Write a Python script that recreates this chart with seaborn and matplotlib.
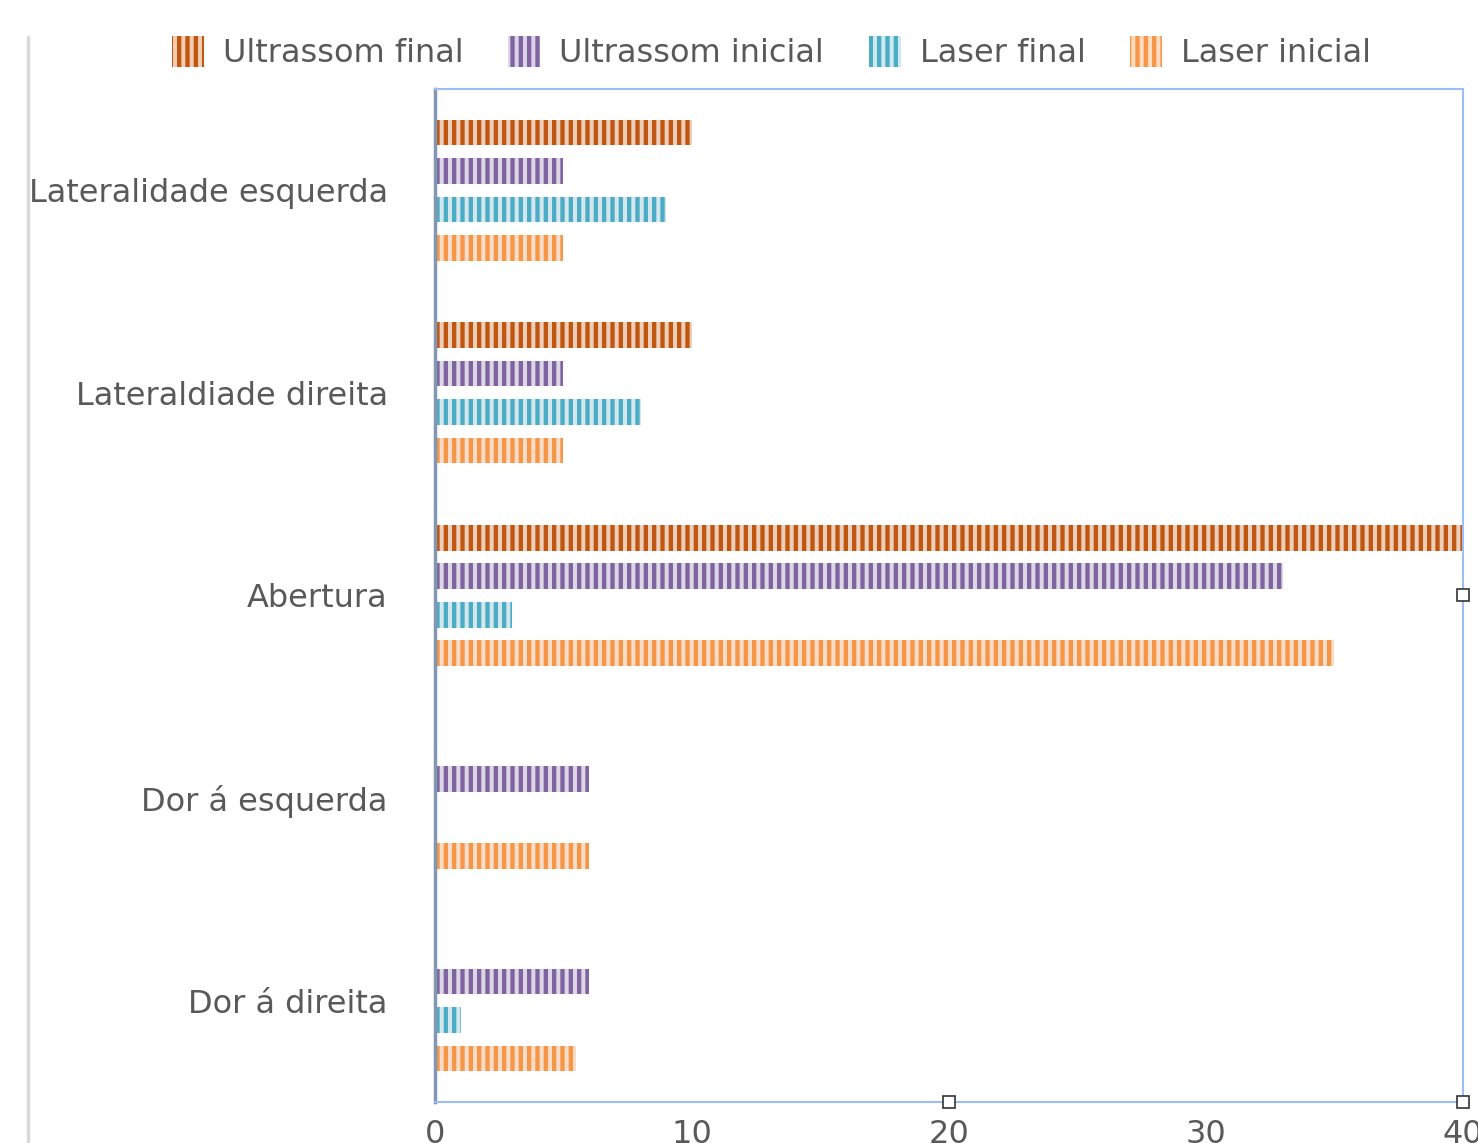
import pandas as pd
import matplotlib.pyplot as plt
import seaborn as sns
from matplotlib.patches import Patch
from matplotlib.lines import Line2D


# values (top to bottom)
categorias = ['Lateralidade esquerda', 'Lateraldiade direita', 'Abertura',
              'Dor á esquerda', 'Dor á direita']
series = ['Ultrassom final', 'Ultrassom inicial', 'Laser final', 'Laser inicial']

ultrassom_final = [10, 10, 40, 0, 0]
ultrassom_inicial = [5, 5, 33, 6, 6]
laser_final = [9, 8, 3, 0, 1]
laser_inicial = [5, 5, 35, 6, 5.5]

x_ticks = [0, 10, 20, 30, 40]

# stripe colours (dark) and the lighter gap between stripes
cores_escuras = ['#C0560F', '#8064A2', '#4BACC6', '#F79646']
cores_claras = ['#F3CDB3', '#DCD3E8', '#CFE9F1', '#FDDCC2']

# build a long dataframe for seaborn
valores = [ultrassom_final, ultrassom_inicial, laser_final, laser_inicial]
linhas = []
for nome, vals in zip(series, valores):
    for cat, v in zip(categorias, vals):
        linhas.append({'categoria': cat, 'serie': nome, 'valor': v})
df = pd.DataFrame(linhas)

sns.set_theme(style='white')
plt.rcParams['font.family'] = ['DejaVu Sans']
plt.rcParams['hatch.linewidth'] = 3.1

fig = plt.figure(figsize=(14.78, 11.43), dpi=100)
ax = fig.add_axes([0.2943, 0.0359, 0.6955, 0.8863])

sns.barplot(data=df, y='categoria', x='valor', hue='serie', order=categorias,
            hue_order=series, palette=cores_claras, orient='h', width=0.76,
            gap=0.33, ax=ax, legend=False)

# vertical stripe pattern on every bar
for cont, escura in zip(ax.containers, cores_escuras):
    for barra in cont:
        barra.set_hatch('||')
        barra.set_edgecolor(escura)
        barra.set_linewidth(0)

ax.set_xlim(0, 40)
ax.set_ylim(len(categorias) - 0.5, -0.5)
ax.set_xticks(x_ticks)
ax.set_xlabel('')
ax.set_ylabel('')
ax.grid(False)

texto = '#595959'
ax.tick_params(axis='y', length=0, pad=34, labelsize=23, labelcolor=texto)
ax.tick_params(axis='x', length=0, pad=12, labelsize=23, labelcolor=texto)

# selected plot-area look
for lado in ['top', 'right', 'bottom']:
    ax.spines[lado].set_color('#9DBDF5')
    ax.spines[lado].set_linewidth(1.5)
ax.spines['left'].set_color('#8497B0')
ax.spines['left'].set_linewidth(2.5)

# selection handles
ax.plot([1, 0.5, 1], [0.5, 0, 0], linestyle='none', marker='s', markersize=9,
        markerfacecolor='white', markeredgecolor='#333333', markeredgewidth=1.2,
        transform=ax.transAxes, clip_on=False, zorder=5)

# grey line at the left edge of the figure
fig.add_artist(Line2D([0.019, 0.019], [0, 0.968], color='#D9D9D9', linewidth=2.5))

handles = [Patch(facecolor=c, edgecolor=e, hatch='||', linewidth=0)
           for c, e in zip(cores_claras, cores_escuras)]
fig.legend(handles, series, loc='center', bbox_to_anchor=(0.522, 0.954), ncol=4,
           frameon=False, fontsize=23, labelcolor=texto, handlelength=1.0,
           handleheight=1.1, handletextpad=0.6, columnspacing=1.4)

fig.savefig('out.png', dpi=100)
